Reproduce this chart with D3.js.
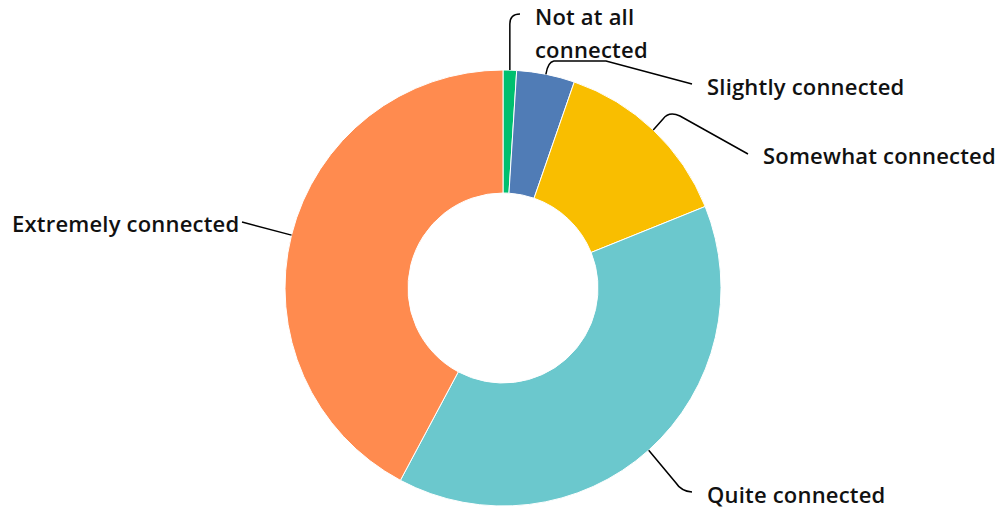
<!DOCTYPE html>
<html><head><meta charset="utf-8">
<script src="https://cdn.jsdelivr.net/npm/d3@7/dist/d3.min.js"></script>
<style>body{margin:0;background:#fff}svg{display:block}</style>
</head><body>
<svg id="c" width="1000" height="510"></svg>
<script>
const categories = ["Not at all connected","Slightly connected","Somewhat connected","Quite connected","Extremely connected"];
const values = [1, 4.3, 13.6, 38.9, 42.2];
const colors = ["#00BF6F","#507CB6","#F9BE00","#6BC8CD","#FF8B4F"];

const svg = d3.select("#c");
const cx = 503, cy = 288, R = 218, r0 = 95;
const g = svg.append("g").attr("transform", `translate(${cx},${cy})`);
const pie = d3.pie().sort(null).value(d => d)(values);
const arc = d3.arc().innerRadius(r0).outerRadius(R);
g.selectAll("path.s").data(pie).join("path").attr("class","s")
  .attr("d", arc).attr("fill", (d,i)=>colors[i])
  .attr("stroke","#fff").attr("stroke-width",1);

// label layout (absolute positions)
const labels = [
  {lines:["Not at all","connected"], x:535, y:25, end:[520,14]},
  {lines:["Slightly connected"], x:707, y:95, end:[692,84]},
  {lines:["Somewhat connected"], x:763, y:164, end:[748,154]},
  {lines:["Quite connected"], x:707, y:503, end:[692,492]},
  {lines:["Extremely connected"], x:12, y:232, end:[242,222]}
];
const font = "'Open Sans', sans-serif";
pie.forEach((d,i) => {
  const L = labels[i];
  const a = (d.startAngle + d.endAngle)/2;
  const sx = cx + R*Math.sin(a), sy = cy - R*Math.cos(a);
  let path;
  if (i === 0) {
    path = `M${sx},${sy} L${sx},${24} Q${sx},${L.end[1]} ${L.end[0]},${L.end[1]}`;
  } else if (i === 1) {
    path = `M${sx},${sy} Q${sx+2},${62} ${sx+8},${61} L${606},${61} L${L.end[0]},${L.end[1]}`;
  } else if (i === 2) {
    path = `M${sx},${sy} L${663},${119} Q${669},${111} ${680},${116} L${L.end[0]},${L.end[1]}`;
  } else if (i === 3) {
    path = `M${sx},${sy} L${676},${483} Q${681},${491} ${L.end[0]},${L.end[1]}`;
  } else {
    path = `M${sx},${sy} L${L.end[0]},${L.end[1]}`;
  }
  svg.append("path").attr("d", path).attr("fill","none").attr("stroke","#000").attr("stroke-width",1.5);
  const t = svg.append("text").attr("x", L.x).attr("y", L.y)
    .attr("font-family", font).attr("font-weight", 600).attr("font-size", 22)
    .attr("letter-spacing", 0.2).attr("fill","#111");
  L.lines.forEach((s,k) => t.append("tspan").attr("x", L.x).attr("dy", k===0?0:33).text(s));
});
</script>
</body></html>
